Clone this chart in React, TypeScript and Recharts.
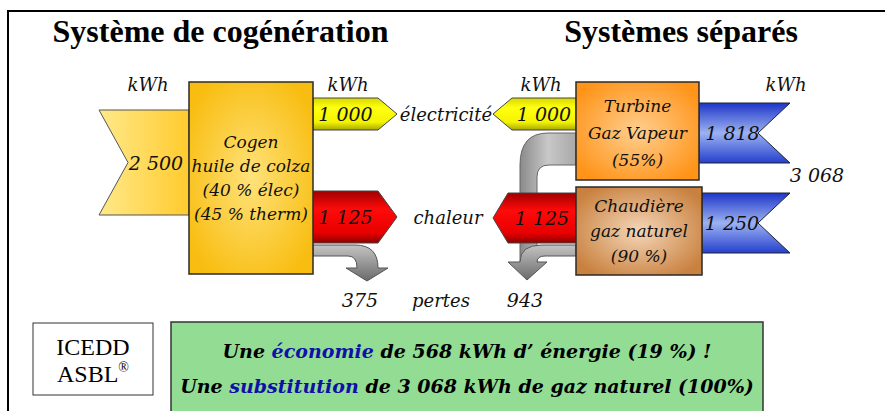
import React from 'react';
import { ComposedChart, XAxis, YAxis, ReferenceArea } from 'recharts';

const W = 885;
const H = 411;

// valeurs en kWh
const cogenInput = [2500];
const cogenOutputs = [1000, 1125];
const cogenLosses = [375];
const separateOutputs = [1000, 1125];
const separateInputs = [1818, 1250];
const separateLosses = [943];
const gasTotal = [3068];
const flowNames = ['électricité', 'chaleur', 'pertes'];
const titles = ['Système de cogénération', 'Systèmes séparés'];
const cogenLines = ['Cogen', 'huile de colza', '(40 % élec)', '(45 % therm)'];
const turbineLines = ['Turbine', 'Gaz Vapeur', '(55%)'];
const boilerLines = ['Chaudière', 'gaz naturel', '(90 %)'];
const savedEnergy = [568, 19];
const substituted = [3068, 100];

const SERIF = '"Liberation Serif", "Times New Roman", serif';
const ITAL = '"DejaVu Serif", serif';

// 1 000 -> "1 000"
const fmt = (v: number) => String(v).replace(/\B(?=(\d{3})+(?!\d))/g, ' ');

type Box = { x: number; y: number; w: number; h: number };

const area = (
	key: string,
	x1: number,
	x2: number,
	y1: number,
	y2: number,
	draw: (b: Box) => React.ReactElement
) => (
	<ReferenceArea
		key={key}
		x1={x1}
		x2={x2}
		y1={y1}
		y2={y2}
		ifOverflow="visible"
		shape={(p: any) => draw({ x: p.x, y: p.y, w: p.width, h: p.height })}
	/>
);

const label = (x: number, y: number, txt: string, size = 18) => (
	<text
		x={x}
		y={y}
		textAnchor="middle"
		dominantBaseline="central"
		fontFamily={ITAL}
		fontStyle="italic"
		fontSize={size}
		fill="#111"
	>
		{txt}
	</text>
);

// fleche entrante, encoche a gauche
const tailLeft = (fill: string, notch: number, txt: string, dx = 0) => (b: Box) => (
	<g>
		<polygon
			points={`${b.x},${b.y} ${b.x + b.w},${b.y} ${b.x + b.w},${b.y + b.h} ${b.x},${b.y + b.h} ${b.x + notch},${b.y + b.h / 2}`}
			fill={fill}
			stroke="#555"
			strokeWidth={1}
		/>
		{label(b.x + b.w / 2 + dx, b.y + b.h / 2, txt, 19)}
	</g>
);

// fleche entrante, encoche a droite
const tailRight = (fill: string, notch: number, txt: string, dx = 0) => (b: Box) => (
	<g>
		<polygon
			points={`${b.x},${b.y} ${b.x + b.w},${b.y} ${b.x + b.w - notch},${b.y + b.h / 2} ${b.x + b.w},${b.y + b.h} ${b.x},${b.y + b.h}`}
			fill={fill}
			stroke="#223"
			strokeWidth={1}
		/>
		{label(b.x + b.w / 2 + dx, b.y + b.h / 2, txt, 19)}
	</g>
);

const headRight = (fill: string, head: number, txt: string) => (b: Box) => (
	<g>
		<polygon
			points={`${b.x},${b.y} ${b.x + b.w - head},${b.y} ${b.x + b.w},${b.y + b.h / 2} ${b.x + b.w - head},${b.y + b.h} ${b.x},${b.y + b.h}`}
			fill={fill}
			stroke="#444"
			strokeWidth={1}
		/>
		{label(b.x + (b.w - head) / 2, b.y + b.h / 2, txt, 19)}
	</g>
);

const headLeft = (fill: string, head: number, txt: string) => (b: Box) => (
	<g>
		<polygon
			points={`${b.x + head},${b.y} ${b.x + b.w},${b.y} ${b.x + b.w},${b.y + b.h} ${b.x + head},${b.y + b.h} ${b.x},${b.y + b.h / 2}`}
			fill={fill}
			stroke="#444"
			strokeWidth={1}
		/>
		{label(b.x + head + (b.w - head) / 2, b.y + b.h / 2, txt, 19)}
	</g>
);

const block = (fill: string, lines: string[], first: number, step: number) => (b: Box) => (
	<g>
		<rect x={b.x} y={b.y} width={b.w} height={b.h} fill={fill} stroke="#2a2a2a" strokeWidth={1.5} />
		{lines.map((l, i) => (
			<text
				key={i}
				x={b.x + b.w / 2}
				y={b.y + first + i * step}
				textAnchor="middle"
				fontFamily={ITAL}
				fontStyle="italic"
				fontSize={17}
				fill="#111"
			>
				{l}
			</text>
		))}
	</g>
);

const App = () => {
	const [elec, heat] = cogenOutputs;
	const [elec2, heat2] = separateOutputs;
	const [ccgt, boiler] = separateInputs;

	return (
		<div style={{ position: 'absolute', left: 0, top: 0, width: W, height: H, background: '#fff' }}>
			<ComposedChart width={W} height={H} margin={{ top: 0, right: 0, bottom: 0, left: 0 }}>
				<defs>
					<linearGradient id="gIn" x1="0" y1="0" x2="1" y2="0">
						<stop offset="0%" stopColor="#ffe98a" />
						<stop offset="100%" stopColor="#ffcb2e" />
					</linearGradient>
					<radialGradient id="gCogen" cx="50%" cy="50%" r="60%">
						<stop offset="0%" stopColor="#ffe27a" />
						<stop offset="100%" stopColor="#f8bd10" />
					</radialGradient>
					<radialGradient id="gTurb" cx="50%" cy="50%" r="60%">
						<stop offset="0%" stopColor="#ffcf90" />
						<stop offset="100%" stopColor="#ff9419" />
					</radialGradient>
					<radialGradient id="gBoil" cx="50%" cy="50%" r="60%">
						<stop offset="0%" stopColor="#f4d6b8" />
						<stop offset="100%" stopColor="#c9813f" />
					</radialGradient>
					<linearGradient id="gYel" x1="0" y1="0" x2="0" y2="1">
						<stop offset="0%" stopColor="#d8d800" />
						<stop offset="30%" stopColor="#ffff10" />
						<stop offset="75%" stopColor="#f4f400" />
						<stop offset="100%" stopColor="#a8a800" />
					</linearGradient>
					<linearGradient id="gRed" x1="0" y1="0" x2="0" y2="1">
						<stop offset="0%" stopColor="#a00000" />
						<stop offset="35%" stopColor="#ff0a0a" />
						<stop offset="80%" stopColor="#e80000" />
						<stop offset="100%" stopColor="#900000" />
					</linearGradient>
					<linearGradient id="gBlue" x1="0" y1="0" x2="0" y2="1">
						<stop offset="0%" stopColor="#1e36c8" />
						<stop offset="50%" stopColor="#9cb2f2" />
						<stop offset="100%" stopColor="#2440cc" />
					</linearGradient>
					<linearGradient id="gGray" x1="0" y1="0" x2="0" y2="1">
						<stop offset="0%" stopColor="#c4c4c4" />
						<stop offset="100%" stopColor="#6a6a6a" />
					</linearGradient>
					<linearGradient id="gGrayH" x1="0" y1="0" x2="1" y2="0">
						<stop offset="0%" stopColor="#8a8a8a" />
						<stop offset="50%" stopColor="#c8c8c8" />
						<stop offset="100%" stopColor="#a8a8a8" />
					</linearGradient>
				</defs>
				<XAxis type="number" dataKey="x" domain={[0, W]} hide allowDataOverflow />
				<YAxis type="number" dataKey="y" domain={[0, H]} reversed hide allowDataOverflow />

				{/* cadre */}
				{area('frame', 8, 884, 11, 420, (b) => (
					<path d={`M${b.x},${b.y + b.h} L${b.x},${b.y} L${b.x + b.w + 10},${b.y}`} fill="none" stroke="#000" strokeWidth={2} />
				))}

				{/* titres */}
				{area('t1', 53, 388, 18, 44, (b) => (
					<text x={b.x + b.w / 2} y={b.y + b.h - 2} textAnchor="middle" fontFamily={SERIF} fontWeight="bold" fontSize={32}>
						{titles[0]}
					</text>
				))}
				{area('t2', 565, 797, 18, 44, (b) => (
					<text x={b.x + b.w / 2} y={b.y + b.h - 2} textAnchor="middle" fontFamily={SERIF} fontWeight="bold" fontSize={32}>
						{titles[1]}
					</text>
				))}

				{/* unites */}
				{[148, 348, 541, 786].map((cx, i) =>
					area(`u${i}`, cx - 20, cx + 20, 76, 92, (b) => label(b.x + b.w / 2, b.y + b.h / 2, 'kWh', 18))
				)}

				{/* cogeneration */}
				{area('lossL', 313, 389, 245, 281, (b) => (
					<path
						d={`M${b.x},${b.y} L${b.x + 42},${b.y} Q${b.x + 65},${b.y} ${b.x + 65},${b.y + 23} L${b.x + 75},${b.y + 23} L${b.x + 54},${b.y + 36} L${b.x + 33},${b.y + 23} L${b.x + 44},${b.y + 23} Q${b.x + 44},${b.y + 11} ${b.x + 35},${b.y + 11} L${b.x},${b.y + 11} Z`}
						fill="url(#gGray)"
						stroke="#555"
						strokeWidth={1}
					/>
				))}
				{area('inC', 99, 189, 110, 215, tailLeft('url(#gIn)', 29, fmt(cogenInput[0]), 12))}
				{area('elecC', 313, 397, 98, 130, headRight('url(#gYel)', 19, fmt(elec)))}
				{area('heatC', 313, 397, 191, 243, headRight('url(#gRed)', 19, fmt(heat)))}
				{area('cogen', 189, 313, 82, 274, block('url(#gCogen)', cogenLines, 66, 24))}

				{/* systemes separes : pertes */}
				{area('lossT', 520, 576, 133, 265, (b) => (
					<path
						d={`M${b.x + 56},${b.y} L${b.x + 28},${b.y} Q${b.x},${b.y} ${b.x},${b.y + 32} L${b.x},${b.y + b.h} L${b.x + 17},${b.y + b.h} L${b.x + 17},${b.y + 44} Q${b.x + 17},${b.y + 32} ${b.x + 29},${b.y + 32} L${b.x + 56},${b.y + 32} Z`}
						fill="url(#gGrayH)"
						stroke="#666"
						strokeWidth={1}
					/>
				))}
				{area('lossB', 508, 576, 245, 280, (b) => (
					<path
						d={`M${b.x + 68},${b.y} L${b.x + 34},${b.y} Q${b.x + 12},${b.y} ${b.x + 12},${b.y + 17} L${b.x},${b.y + 17} L${b.x + 19},${b.y + 35} L${b.x + 39},${b.y + 17} L${b.x + 29},${b.y + 17} Q${b.x + 29},${b.y + 11} ${b.x + 37},${b.y + 11} L${b.x + 68},${b.y + 11} Z`}
						fill="url(#gGray)"
						stroke="#555"
						strokeWidth={1}
					/>
				))}
				{area('elecS', 493, 576, 98, 130, headLeft('url(#gYel)', 19, fmt(elec2)))}
				{area('heatS', 493, 576, 193, 243, headLeft('url(#gRed)', 15, fmt(heat2)))}
				{area('gas1', 699, 790, 103, 163, tailRight('url(#gBlue)', 32, fmt(ccgt), -12))}
				{area('gas2', 702, 790, 193, 253, tailRight('url(#gBlue)', 32, fmt(boiler), -14))}
				{area('turb', 576, 699, 82, 180, block('url(#gTurb)', turbineLines, 30, 27))}
				{area('boil', 576, 702, 187, 275, block('url(#gBoil)', boilerLines, 25, 25))}

				{/* libelles des flux */}
				{area('nElec', 400, 492, 104, 124, (b) => label(b.x + b.w / 2, b.y + b.h / 2, flowNames[0]))}
				{area('nHeat', 410, 486, 207, 227, (b) => label(b.x + b.w / 2, b.y + b.h / 2, flowNames[1]))}
				{area('nLoss', 410, 472, 290, 310, (b) => label(b.x + b.w / 2, b.y + b.h / 2, flowNames[2]))}
				{area('vLossC', 340, 380, 290, 310, (b) => label(b.x + b.w / 2, b.y + b.h / 2, fmt(cogenLosses[0]), 19))}
				{area('vLossS', 505, 545, 290, 310, (b) => label(b.x + b.w / 2, b.y + b.h / 2, fmt(separateLosses[0]), 19))}
				{area('vTot', 792, 842, 165, 185, (b) => label(b.x + b.w / 2, b.y + b.h / 2, fmt(gasTotal[0]), 19))}

				{/* cartouches */}
				{area('icedd', 33, 153, 323, 395, (b) => (
					<g>
						<rect x={b.x} y={b.y} width={b.w} height={b.h} fill="#fff" stroke="#333" strokeWidth={1} />
						<text x={b.x + b.w / 2} y={b.y + 32} textAnchor="middle" fontFamily={SERIF} fontSize={24}>
							ICEDD
						</text>
						<text x={b.x + b.w / 2} y={b.y + 59} textAnchor="middle" fontFamily={SERIF} fontSize={24}>
							ASBL
							<tspan fontSize={14} dy={-10}>
								®
							</tspan>
						</text>
					</g>
				))}
				{area('green', 171, 763, 322, 420, (b) => (
					<g>
						<rect x={b.x} y={b.y} width={b.w} height={b.h} fill="#93dc93" stroke="#333" strokeWidth={1.5} />
						<text x={b.x + b.w / 2} y={b.y + 36} textAnchor="middle" fontFamily={ITAL} fontStyle="italic" fontWeight="bold" fontSize={19}>
							Une <tspan fill="#1010a8">économie</tspan> de {savedEnergy[0]} kWh d’ énergie ({savedEnergy[1]} %) !
						</text>
						<text x={b.x + b.w / 2} y={b.y + 71} textAnchor="middle" fontFamily={ITAL} fontStyle="italic" fontWeight="bold" fontSize={19}>
							Une <tspan fill="#1010a8">substitution</tspan> de {fmt(substituted[0])} kWh de gaz naturel ({substituted[1]}%)
						</text>
					</g>
				))}
			</ComposedChart>
		</div>
	);
};

export default App;
